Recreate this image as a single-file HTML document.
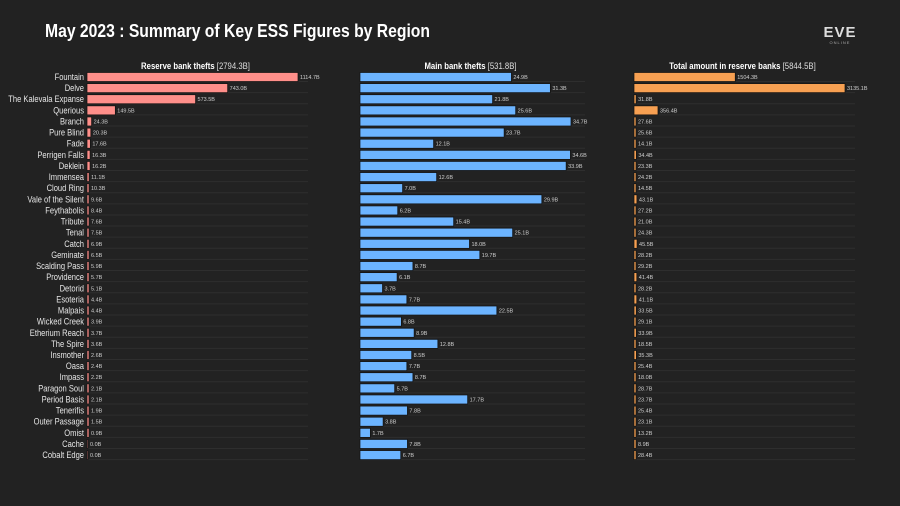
<!DOCTYPE html>
<html><head><meta charset="utf-8"><style>
html,body{margin:0;padding:0;background:#222;}
svg{display:block;font-family:"Liberation Sans",sans-serif;}
.narrow{font-family:"Liberation Sans Narrow","Liberation Sans",sans-serif;}
</style></head><body>
<svg id="chart" width="900" height="506" viewBox="0 0 900 506">
<rect width="900" height="506" fill="#222"/>
<text x="45" y="37" fill="#fff" font-size="18" font-weight="bold" class="narrow" textLength="385" lengthAdjust="spacingAndGlyphs">May 2023 : Summary of Key ESS Figures by Region</text>
<g>
<text x="840" y="37" fill="#ddd" font-size="15" font-weight="bold" text-anchor="middle" letter-spacing="1">EVE</text>
<text x="840" y="44" fill="#aaa" font-size="4" text-anchor="middle" letter-spacing="1">ONLINE</text>
</g>
<g id="plots"></g>
</svg>
<script>
const regions=["Fountain","Delve","The Kalevala Expanse","Querious","Branch","Pure Blind","Fade","Perrigen Falls","Deklein","Immensea","Cloud Ring","Vale of the Silent","Feythabolis","Tribute","Tenal","Catch","Geminate","Scalding Pass","Providence","Detorid","Esoteria","Malpais","Wicked Creek","Etherium Reach","The Spire","Insmother","Oasa","Impass","Paragon Soul","Period Basis","Tenerifis","Outer Passage","Omist","Cache","Cobalt Edge"];
const reserveThefts=[1114.7,743.0,573.5,149.5,24.3,20.3,17.6,16.3,16.2,11.1,10.3,9.6,8.4,7.6,7.5,6.9,6.5,5.9,5.7,5.1,4.4,4.4,3.9,3.7,3.6,2.6,2.4,2.2,2.1,2.1,1.9,1.5,0.9,0.0,0.0];
const mainThefts=[24.9,31.3,21.8,25.6,34.7,23.7,12.1,34.6,33.9,12.6,7.0,29.9,6.2,15.4,25.1,18.0,19.7,8.7,6.1,3.7,7.7,22.5,6.8,8.9,12.8,8.5,7.7,8.7,5.7,17.7,7.8,3.8,1.7,7.8,6.7];
const reserveTotals=[1504.3,3135.1,31.8,356.4,27.6,25.6,14.1,34.4,23.3,24.2,14.5,43.1,27.2,21.0,24.3,45.5,28.2,29.2,41.4,28.2,41.1,33.5,29.1,33.9,18.5,35.3,25.4,18.0,28.7,23.7,25.4,23.1,13.2,8.9,28.4];
const panelTitles=["Reserve bank thefts","Main bank thefts","Total amount in reserve banks"];
const panelTotals=["2794.3B","531.8B","5844.5B"];

const NS="http://www.w3.org/2000/svg";
const root=document.getElementById('plots');
function mk(tag,attrs,parent){const e=document.createElementNS(NS,tag);for(const k in attrs)e.setAttribute(k,attrs[k]);parent.appendChild(e);return e;}
function squeeze(t,f){const L=t.getComputedTextLength();t.setAttribute('textLength',(L*f).toFixed(1));t.setAttribute('lengthAdjust','spacingAndGlyphs');}
const y0=77,step=11.12,barH=9,maxW=211;
function yPos(i){return y0+i*step;}
const panels=[{x0:87,gridEnd:308,data:reserveThefts,color:"#ff8f8a",name:"reserve-thefts"},
{x0:360,gridEnd:585,data:mainThefts,color:"#6cb4ff",name:"main-thefts"},
{x0:634,gridEnd:855,data:reserveTotals,color:"#f7a052",name:"reserve-totals"}];

regions.forEach((r,i)=>{
  const t=mk('text',{x:84,y:yPos(i)+3,fill:'#e6e6e6','font-size':9,'text-anchor':'end'},root);
  
  
  t.textContent=r;
  squeeze(t,0.84);
});

panels.forEach((p,pi)=>{
  const g=mk('g',{},root);
  
  
  const max=Math.max(...p.data);
  const xs=v=>v/max*maxW;
  const title=mk('text',{x:p.x0+(p.gridEnd-p.x0)/2-2,y:69,fill:'#fff','font-size':9,'text-anchor':'middle'},g);
  
  
  title.textContent='';
  const b=mk('tspan',{'font-weight':'bold'},title);b.textContent=panelTitles[pi]+' ';
  const s=mk('tspan',{fill:'#ddd'},title);s.textContent='['+panelTotals[pi]+']';
  squeeze(title,0.86);
  p.data.forEach((v,i)=>{
    const y=yPos(i);
    const gl=mk('line',{x1:p.x0,x2:p.gridEnd,y1:y+4.5,y2:y+4.5,stroke:'#2e2e2e','stroke-width':1},g);
    
    
    const w=Math.max(xs(v),v>0?2:1);
    const r=mk('rect',{x:p.x0,y:y-barH/2,width:w,height:barH,fill:p.color,stroke:'#111','stroke-width':0.7},g);
    
    
    const lt=mk('text',{x:p.x0+w+2,y:y+2,fill:'#cfcfcf','font-size':5.5},g);
    
    
    lt.textContent=v.toFixed(1)+'B';
  });
});
</script>
</body></html>
